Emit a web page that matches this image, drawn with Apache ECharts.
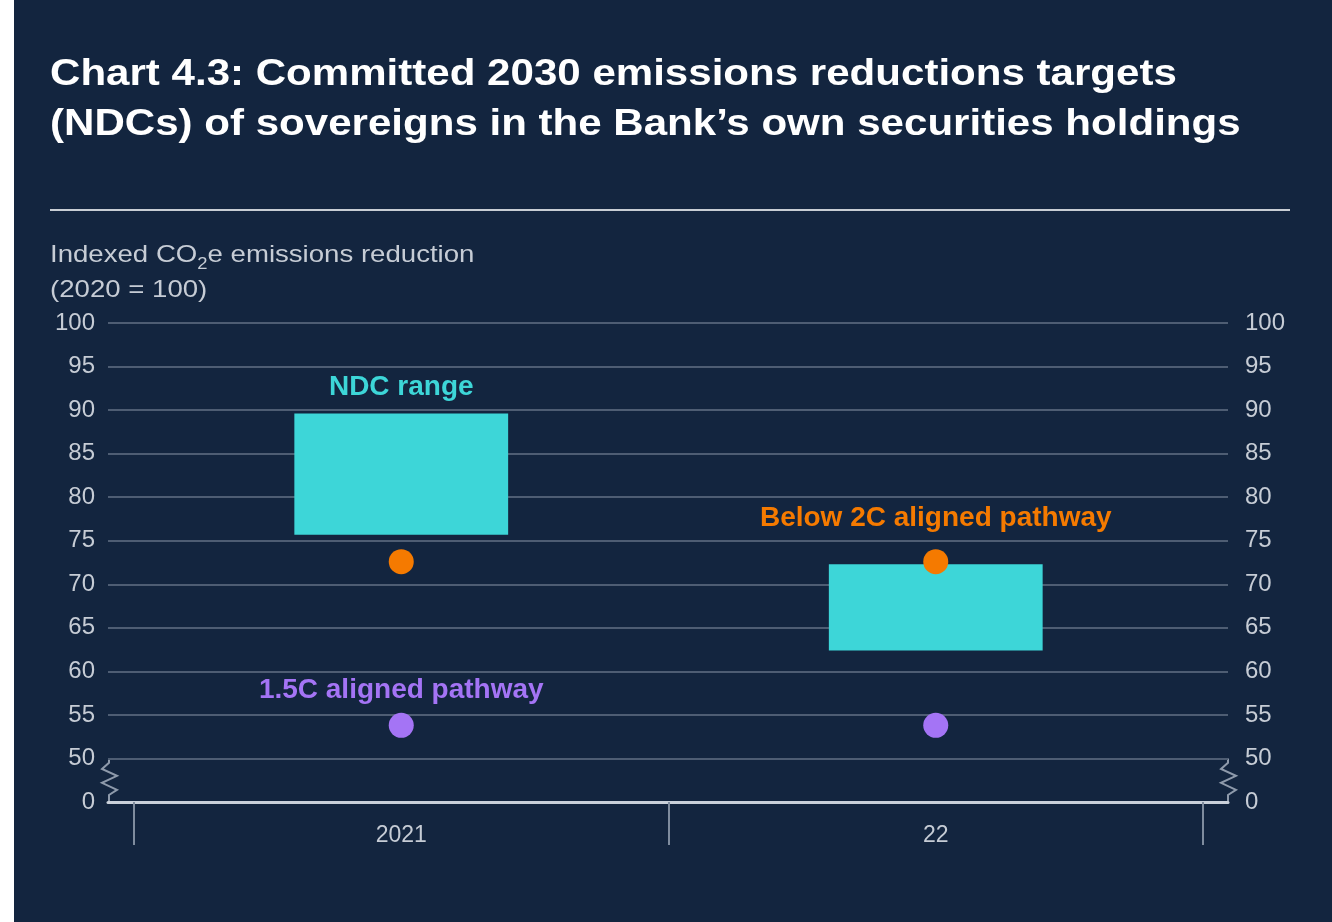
<!DOCTYPE html>
<html>
<head>
<meta charset="utf-8">
<title>Chart 4.3</title>
<script src="https://cdn.jsdelivr.net/npm/echarts@6/dist/echarts.min.js"></script>
<style>
  html, body { margin: 0; padding: 0; background: #ffffff; }
  #chart { position: absolute; left: 14px; top: 0; width: 1318px; height: 922px; }
</style>
</head>
<body>
<div id="chart"></div>
<script>
// Categories and values
const categories = ['2021', '22'];
const ndcLow = [75.7, 62.4];       // bottom of the NDC range
const ndcHigh = [89.6, 72.3];      // top of the NDC range
const below2C = [72.6, 72.6];      // below 2C aligned pathway
const path15C = [53.8, 53.8];      // 1.5C aligned pathway

// Value axis: broken below 50, the bottom tick stands for 0
const yMin = 45, yMax = 100, yStep = 5;
const yBreakValue = 50;

const FONT = "'Liberation Sans', Arial, sans-serif";
const BG = '#13253f';
const GRID_LINE = '#4e5d73';
const AXIS_TEXT = '#c6ccd5';
const CYAN = '#3dd6d8';
const ORANGE = '#f57a00';
const PURPLE = '#a474f5';

const chart = echarts.init(document.getElementById('chart'), null, { renderer: 'canvas' });

const tickLabel = v => (v === yMin ? '0' : String(v));

const markLabel = (text, color, distance) => ({
  show: true, position: 'top', distance, formatter: text,
  color, fontSize: 28, fontWeight: 'bold', fontFamily: FONT
});

const option = {
  backgroundColor: BG,
  animation: false,
  textStyle: { fontFamily: FONT },
  grid: [
    // full-width grid holding the horizontal rules and both value scales
    { left: 94, right: 104, top: 323, bottom: 120 },
    // inner grid holding the categories and marks
    { left: 120, right: 129, top: 323, bottom: 120 }
  ],
  xAxis: [
    {
      gridIndex: 0, type: 'value', min: 0, max: 1,
      axisLine: { show: true, lineStyle: { color: '#c9d0da', width: 3 } },
      axisTick: { show: false }, axisLabel: { show: false }, splitLine: { show: false }
    },
    {
      gridIndex: 1, type: 'category', data: categories, boundaryGap: true,
      axisLine: { show: false },
      axisTick: { show: true, length: 43, lineStyle: { color: '#7f8c9e', width: 2 } },
      axisLabel: { color: AXIS_TEXT, fontSize: 23, margin: 22, fontFamily: FONT }
    }
  ],
  yAxis: [
    {
      gridIndex: 0, type: 'value', min: yMin, max: yMax, interval: yStep, position: 'left',
      axisLine: { show: false }, axisTick: { show: false },
      axisLabel: { color: AXIS_TEXT, fontSize: 24, margin: 13, formatter: tickLabel, fontFamily: FONT },
      splitLine: { show: true, lineStyle: { color: GRID_LINE, width: 2 } }
    },
    {
      gridIndex: 0, type: 'value', min: yMin, max: yMax, interval: yStep, position: 'right',
      axisLine: { show: false }, axisTick: { show: false },
      axisLabel: { color: AXIS_TEXT, fontSize: 24, margin: 17, formatter: tickLabel, fontFamily: FONT },
      splitLine: { show: false }
    },
    {
      gridIndex: 1, type: 'value', min: yMin, max: yMax, interval: yStep, show: false
    }
  ],
  series: [
    {
      name: 'base', type: 'bar', xAxisIndex: 1, yAxisIndex: 2, stack: 'ndc',
      barWidth: '40%', silent: true,
      itemStyle: { color: 'transparent' },
      data: ndcLow
    },
    {
      name: 'NDC range', type: 'bar', xAxisIndex: 1, yAxisIndex: 2, stack: 'ndc',
      barWidth: '40%',
      itemStyle: { color: CYAN },
      data: ndcHigh.map((h, i) => ({
        value: +(h - ndcLow[i]).toFixed(2),
        label: i === 0 ? markLabel('NDC range', CYAN, 12) : { show: false }
      }))
    },
    {
      name: 'Below 2C aligned pathway', type: 'scatter', xAxisIndex: 1, yAxisIndex: 2,
      symbolSize: 25, itemStyle: { color: ORANGE, opacity: 1 },
      data: below2C.map((v, i) => ({
        value: v,
        label: i === 1 ? markLabel('Below 2C aligned pathway', ORANGE, 17) : { show: false }
      }))
    },
    {
      name: '1.5C aligned pathway', type: 'scatter', xAxisIndex: 1, yAxisIndex: 2,
      symbolSize: 25, itemStyle: { color: PURPLE, opacity: 1 },
      data: path15C.map((v, i) => ({
        value: v,
        label: i === 0 ? markLabel('1.5C aligned pathway', PURPLE, 9) : { show: false }
      }))
    }
  ],
  graphic: [
    {
      type: 'text', left: 36, top: 50, scaleX: 1.137,
      style: {
        text: 'Chart 4.3: Committed 2030 emissions reductions targets\n(NDCs) of sovereigns in the Bank\u2019s own securities holdings',
        fill: '#ffffff', font: 'bold 37px ' + FONT, lineHeight: 50
      }
    },
    {
      type: 'rect', left: 36, top: 209,
      shape: { width: 1240, height: 2 },
      style: { fill: '#c8cdd4' }
    },
    {
      type: 'text', left: 36, top: 238, scaleX: 1.15,
      style: {
        text: 'Indexed CO{sub|2}e emissions reduction\n(2020 = 100)',
        fill: AXIS_TEXT, font: '24px ' + FONT, lineHeight: 35,
        rich: {
          sub: { fontSize: 16, lineHeight: 12, verticalAlign: 'bottom', fill: AXIS_TEXT, fontFamily: FONT }
        }
      }
    }
  ]
};

chart.setOption(option);

// Break marks on both ends of the value axis, between 50 and the 0 baseline
function drawBreaks() {
  const pTop = chart.convertToPixel({ xAxisIndex: 0, yAxisIndex: 0 }, [0, yBreakValue]);
  const pBot = chart.convertToPixel({ xAxisIndex: 0, yAxisIndex: 0 }, [1, yMin]);
  const y0 = pTop[1], y1 = pBot[1];
  const h = y1 - y0;
  const zig = (x, dir) => [
    [x, y0], [x, y0 + h * 0.10],
    [x - 7 * dir, y0 + h * 0.24],
    [x + 8 * dir, y0 + h * 0.40],
    [x - 7 * dir, y0 + h * 0.56],
    [x + 8 * dir, y0 + h * 0.72],
    [x, y0 + h * 0.84], [x, y1]
  ];
  chart.setOption({
    graphic: [
      {
        id: 'breakL', type: 'polyline', silent: true,
        shape: { points: zig(pTop[0] + 1, 1) },
        style: { stroke: '#8e9aab', lineWidth: 2, fill: null }
      },
      {
        id: 'breakR', type: 'polyline', silent: true,
        shape: { points: zig(pBot[0], 1) },
        style: { stroke: '#8e9aab', lineWidth: 2, fill: null }
      }
    ]
  });
}
drawBreaks();
</script>
</body>
</html>
